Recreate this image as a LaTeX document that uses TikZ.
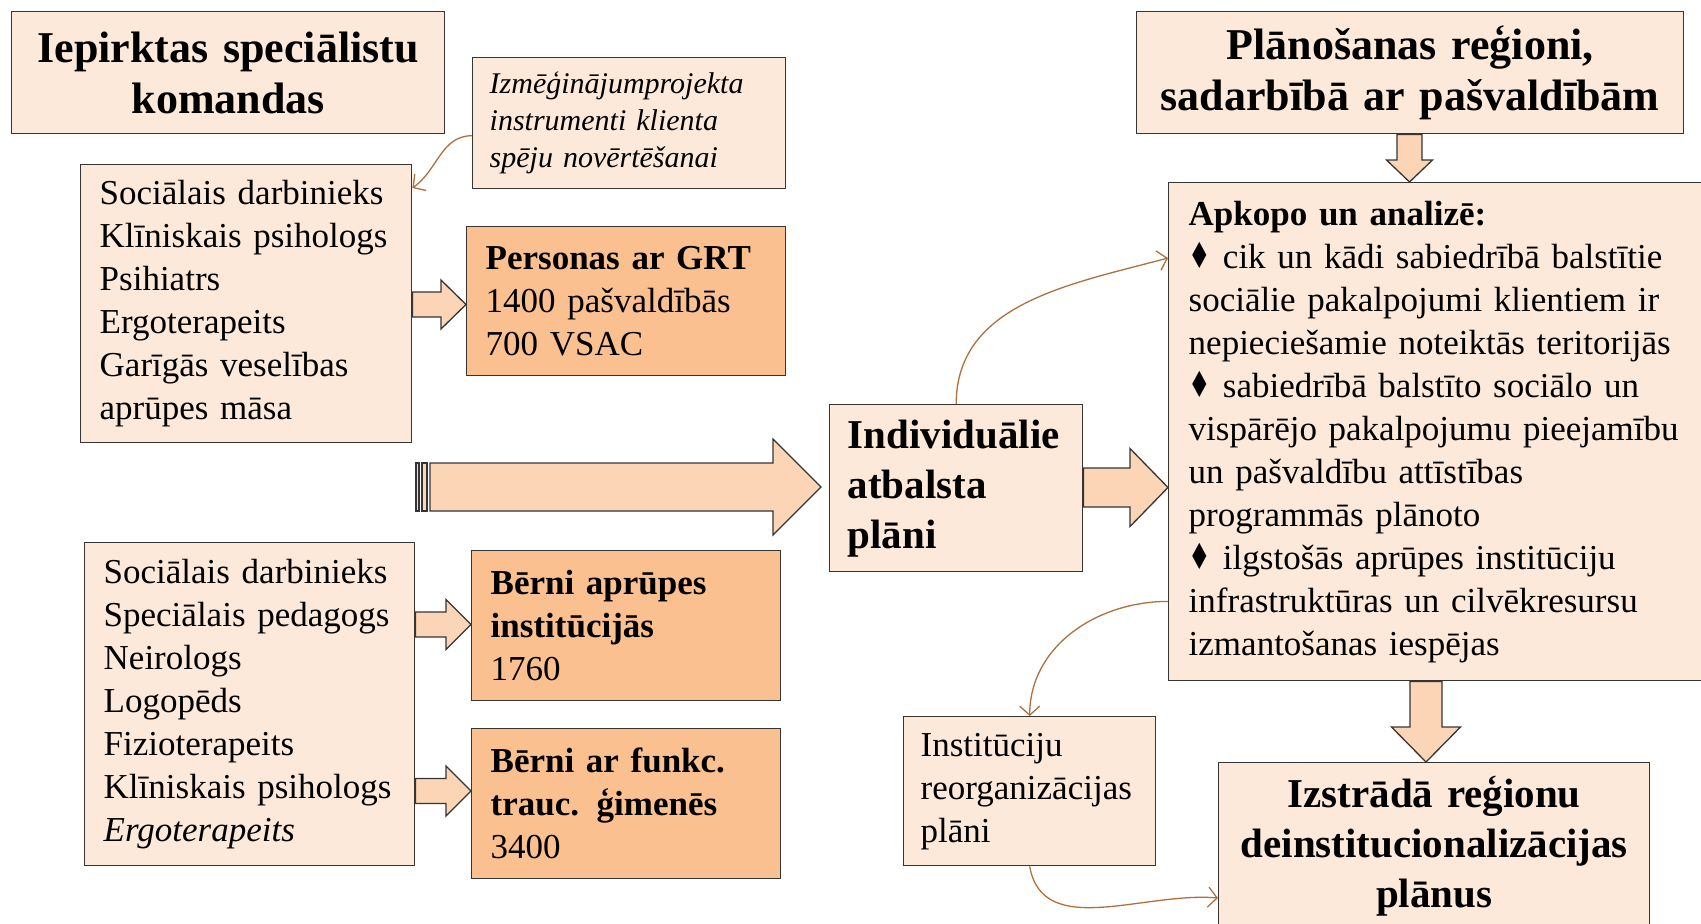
\documentclass[tikz,border=0pt]{standalone}
\usepackage{fontspec}
\setmainfont{Liberation Serif}
\newfontfamily\symfnt{DejaVu Sans}
\usetikzlibrary{calc,arrows.meta}
\definecolor{lightpeach}{HTML}{FDE9D9}
\definecolor{darkpeach}{HTML}{FAC090}
\definecolor{arrowpeach}{HTML}{FBD5B5}
\definecolor{curvebrown}{HTML}{B0703C}
\definecolor{edgegray}{HTML}{353535}
\tikzset{
  lbox/.style={draw=edgegray, line width=1.4pt, fill=lightpeach, anchor=north west, inner ysep=2pt, rectangle},
  dbox/.style={lbox, fill=darkpeach},
  bodyfont/.style={font=\fontsize{35}{43}\selectfont},
  italfont/.style={font=\fontsize{30}{37}\selectfont\itshape},
  titlefont/.style={font=\fontsize{44}{51}\selectfont\bfseries},
  subtitlefont/.style={font=\fontsize{41}{50}\selectfont\bfseries},
  blockarrow/.style={draw=edgegray, fill=arrowpeach, line width=1.3pt, line join=miter},
  curvearrow/.style={draw=curvebrown, line width=1.3pt, -{Straight Barb[length=9pt,width=20pt]}},
}
\newcommand\dmd{\scalebox{0.7}[1]{\symfnt\fontsize{36}{43}\selectfont ♦}}
% horizontal block arrow: from, to, y (down), shaft half, head half, head length
\newcommand\myHarrow[6]{%
  \path[blockarrow] let \p1=(#1), \p2=(#2) in
    (\x1,{-#3pt+#4pt}) -- ({\x2-#6pt},{-#3pt+#4pt}) -- ({\x2-#6pt},{-#3pt+#5pt}) --
    (\x2,{-#3pt}) -- ({\x2-#6pt},{-#3pt-#5pt}) -- ({\x2-#6pt},{-#3pt-#4pt}) --
    (\x1,{-#3pt-#4pt}) -- cycle;}
% vertical block arrow (downwards): from, to, x, shaft half, head half, head length
\newcommand\myVarrow[6]{%
  \path[blockarrow] let \p1=(#1), \p2=(#2) in
    ({#3pt-#4pt},\y1) -- ({#3pt-#4pt},{\y2+#6pt}) -- ({#3pt-#5pt},{\y2+#6pt}) --
    (#3pt,\y2) -- ({#3pt+#5pt},{\y2+#6pt}) -- ({#3pt+#4pt},{\y2+#6pt}) --
    ({#3pt+#4pt},\y1) -- cycle;}
\begin{document}
\begin{tikzpicture}[x=1pt,y=-1pt]
\useasboundingbox (0,0) rectangle (1701,924);

% boxes
\node[lbox, titlefont, minimum width=433pt, minimum height=122pt, inner xsep=0pt, text width=433pt, align=center] (A) at (11,11) {Iepirktas speciālistu\\komandas};
\node[lbox, italfont, minimum width=313pt, minimum height=131pt, inner xsep=17pt, text width=279pt, align=left] (B) at (472,57) {Izmēģinājumprojekta\\instrumenti klienta\\spēju novērtēšanai};
\node[lbox, bodyfont, minimum width=331pt, minimum height=278pt, inner xsep=19pt, text width=293pt, align=left] (C) at (80,164) {Sociālais darbinieks\\Klīniskais psihologs\\Psihiatrs\\Ergoterapeits\\Garīgās veselības\\aprūpes māsa};
\node[dbox, bodyfont, minimum width=319pt, minimum height=149pt, inner xsep=19pt, text width=281pt, align=left] (D) at (466,226) {\textbf{Personas ar GRT}\\1400 pašvaldībās\\700 VSAC};
\node[lbox, bodyfont, minimum width=330pt, minimum height=323pt, inner xsep=19pt, text width=292pt, align=left] (E) at (84,542) {Sociālais darbinieks\\Speciālais pedagogs\\Neirologs\\Logopēds\\Fizioterapeits\\Klīniskais psihologs\\\textit{Ergoterapeits}};
\node[dbox, bodyfont, minimum width=309pt, minimum height=150pt, inner xsep=19pt, text width=271pt, align=left] (F) at (471,550) {\textbf{Bērni aprūpes}\\\textbf{institūcijās}\\1760};
\node[dbox, bodyfont, minimum width=309pt, minimum height=150pt, inner xsep=19pt, text width=271pt, align=left] (G) at (471,728) {\textbf{Bērni ar funkc.}\\\textbf{trauc. ģimenēs}\\3400};
\node[lbox, subtitlefont, minimum width=253pt, minimum height=167pt, inner xsep=18pt, text width=217pt, align=left] (H) at (829,404) {Individuālie\\atbalsta\\plāni};
\node[lbox, titlefont, minimum width=547pt, minimum height=122pt, inner xsep=0pt, text width=547pt, align=center] (J) at (1136,11) {Plānošanas reģioni,\\sadarbībā ar pašvaldībām};
\node[lbox, bodyfont, minimum width=547pt, minimum height=498pt, inner xsep=20pt, text width=507pt, align=left] (I) at (1168,182) {\textbf{Apkopo un analizē:}\\\dmd\ cik un kādi sabiedrībā balstītie\\sociālie pakalpojumi klientiem ir\\nepieciešamie noteiktās teritorijās\\\dmd\ sabiedrībā balstīto sociālo un\\vispārējo pakalpojumu pieejamību\\un pašvaldību attīstības\\programmās plānoto\\\dmd\ ilgstošās aprūpes institūciju\\infrastruktūras un cilvēkresursu\\izmantošanas iespējas};
\node[lbox, bodyfont, minimum width=252pt, minimum height=149pt, inner xsep=17pt, text width=218pt, align=left] (L) at (903,716) {Institūciju\\reorganizācijas\\plāni};
\node[lbox, subtitlefont, minimum width=431pt, minimum height=166pt, inner xsep=0pt, text width=431pt, align=center] (K) at (1218,762) {Izstrādā reģionu\\deinstitucionalizācijas\\plānus};

% block arrows
\myHarrow{C.east}{D.west}{304.5}{12.5}{24.5}{25}
\myHarrow{E.east}{F.west}{624.5}{12.5}{25}{25}
\myHarrow{E.east}{G.west}{791}{12.5}{25}{25}
\myHarrow{H.east}{I.west}{487.5}{19.5}{39}{38}
\myVarrow{J.south}{I.north}{1409.5}{12.5}{23}{22}
\myVarrow{I.south}{K.north}{1426}{16}{34.5}{35}

% big arrow with striped tail
\path[blockarrow] (416,463) rectangle (419,511);
\path[blockarrow] (422,463) rectangle (427,511);
\coordinate (bigstart) at (430,487);
\myHarrow{bigstart}{[xshift=-8pt]H.west}{487}{24}{48}{48}

% curved connectors
\draw[curvearrow] ([yshift=-12.5pt]B.west) to[out=180,in=35] ([yshift=-24pt]C.north east);
\draw[curvearrow] (H.north) to[out=90,in=195] ([yshift=-76pt]I.north west);
\draw[curvearrow] ([yshift=80pt]I.south west) to[out=180,in=90] (L.north);
\draw[curvearrow] (L.south) to[out=-80,in=175] ([yshift=-136pt]K.north west);
\end{tikzpicture}
\end{document}
